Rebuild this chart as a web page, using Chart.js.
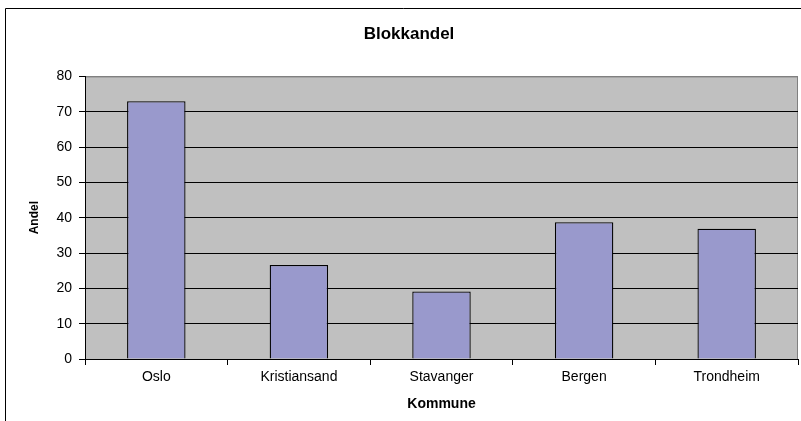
<!DOCTYPE html>
<html>
<head>
<meta charset="utf-8">
<script src="https://cdn.jsdelivr.net/npm/chart.js@4/dist/chart.umd.min.js"></script>
<style>
  html, body { margin: 0; padding: 0; background: #fff; }
  #wrap { width: 801px; height: 421px; }
</style>
</head>
<body>
<div id="wrap"><canvas id="chart" width="801" height="421"></canvas></div>
<script>
const kommuner = ['Oslo', 'Kristiansand', 'Stavanger', 'Bergen', 'Trondheim']
const andel = [73, 26.6, 19.1, 38.7, 36.9]

// grey plot area + outer frame, excel style
const excelFrame = {
  id: 'excelFrame',
  beforeDraw(chart) {
    const ctx = chart.ctx
    const a = chart.chartArea
    ctx.save()
    ctx.fillStyle = '#c0c0c0'
    ctx.fillRect(a.left, a.top, a.right - a.left, a.bottom - a.top)
    ctx.strokeStyle = '#808080'
    ctx.lineWidth = 1
    ctx.strokeRect(a.left + 0.5, a.top + 0.5, a.right - a.left - 1, a.bottom - a.top)
    ctx.strokeStyle = '#000'
    ctx.beginPath()
    ctx.moveTo(5.5, 421)
    ctx.lineTo(5.5, 8.5)
    ctx.lineTo(801, 8.5)
    ctx.stroke()
    ctx.restore()
  }
}

const font = 'Arial, "Liberation Sans", sans-serif'

new Chart(document.getElementById('chart'), {
  type: 'bar',
  data: {
    labels: kommuner,
    datasets: [{
      label: 'Andel',
      data: andel,
      backgroundColor: '#9999cc',
      borderColor: '#000',
      borderWidth: 1.3,
      barPercentage: 0.41,
      categoryPercentage: 1
    }]
  },
  options: {
    responsive: false,
    animation: false,
    layout: { padding: { left: 20, right: 3, top: 0, bottom: 0 } },
    plugins: {
      legend: { display: false },
      tooltip: { enabled: false },
      title: {
        display: true,
        text: 'Blokkandel',
        color: '#000',
        font: { family: font, size: 17, weight: 'bold' },
        padding: { top: 24, bottom: 32 }
      }
    },
    scales: {
      x: {
        offset: true,
        grid: { offset: true, drawOnChartArea: false, color: '#000', tickLength: 6 },
        border: { color: '#000' },
        ticks: { color: '#000', font: { family: font, size: 14 }, padding: 4, maxRotation: 0 },
        title: {
          display: true,
          text: 'Kommune',
          color: '#000',
          font: { family: font, size: 14, weight: 'bold' },
          padding: { top: 6, bottom: 8 }
        },
        afterFit(scale) { scale.height = 62 }
      },
      y: {
        min: 0,
        max: 80,
        ticks: { stepSize: 10, color: '#000', font: { family: font, size: 14 }, padding: 7 },
        grid: {
          color: (c) => (c.tick && c.tick.value === 80 ? '#808080' : '#000'),
          tickColor: '#000',
          tickLength: 6
        },
        border: { color: '#000' },
        title: {
          display: true,
          text: 'Andel',
          color: '#000',
          font: { family: font, size: 12, weight: 'bold' },
          padding: { top: 7, bottom: 4 }
        },
        afterFit(scale) { scale.width = 65 }
      }
    }
  },
  plugins: [excelFrame]
})
</script>
</body>
</html>
